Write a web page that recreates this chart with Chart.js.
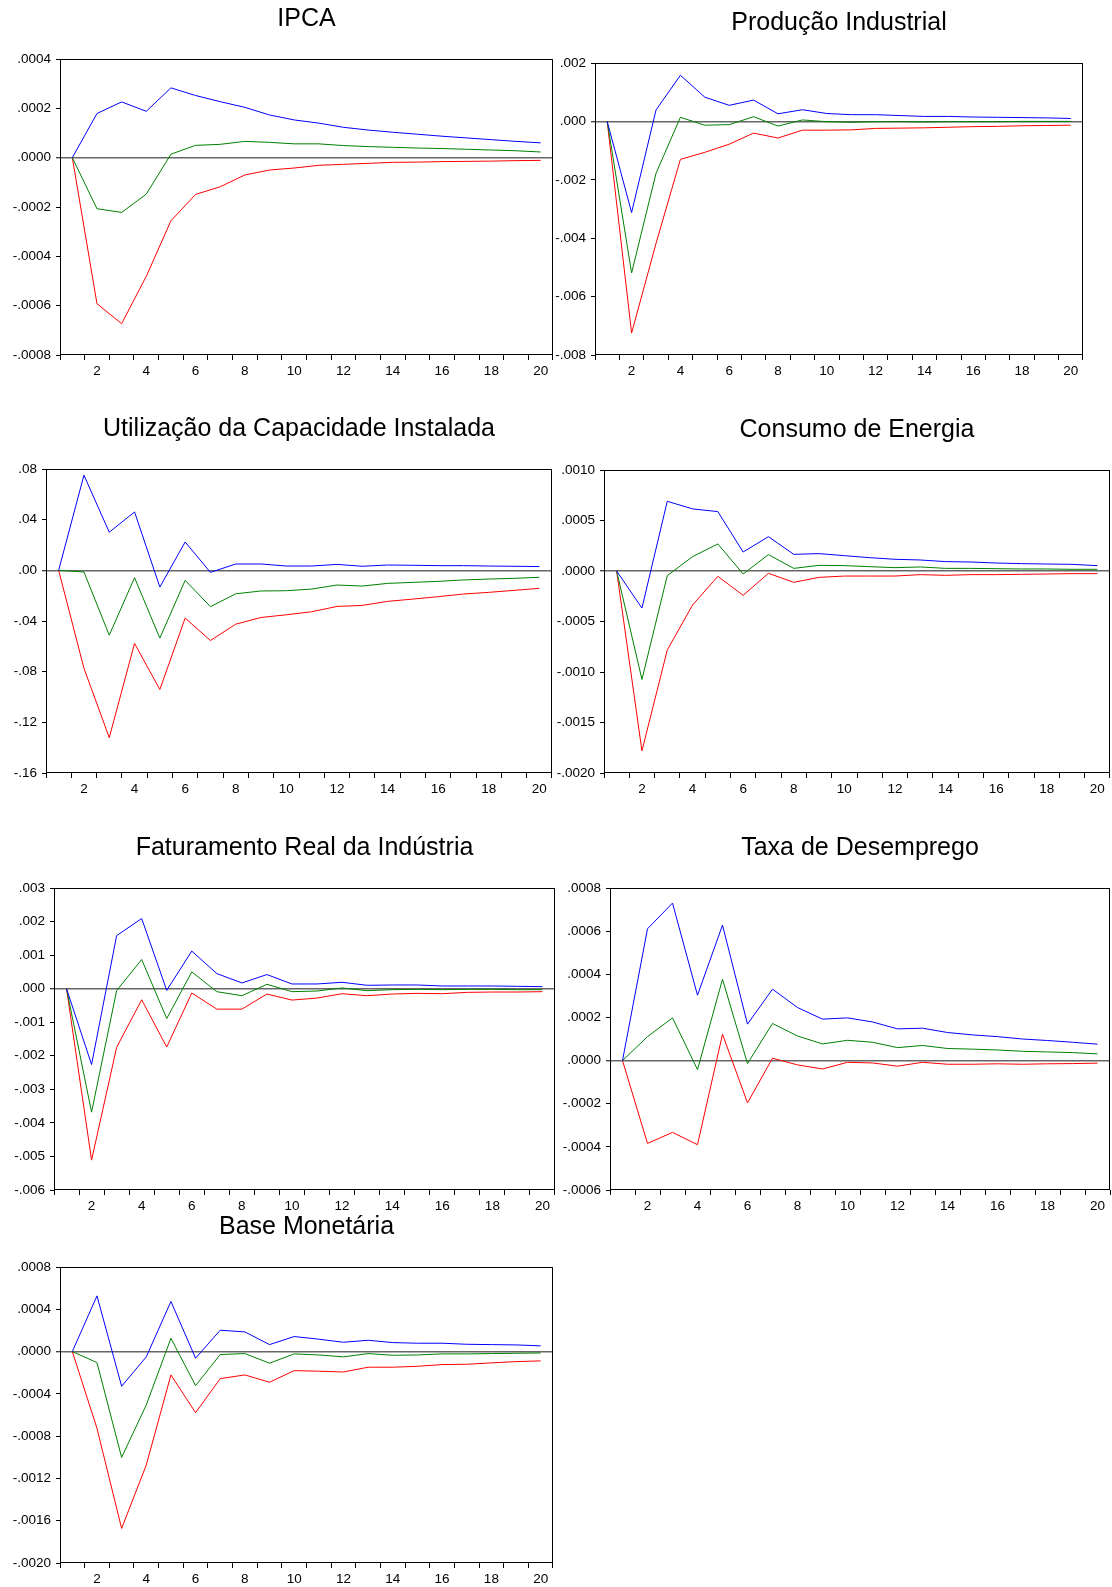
<!DOCTYPE html>
<html>
<head>
<meta charset="utf-8">
<title>Respostas a impulso</title>
<script src="https://cdn.jsdelivr.net/npm/chart.js@4.4.1/dist/chart.umd.min.js"></script>
<style>
  html, body { margin: 0; padding: 0; background: #fff; overflow: hidden; }
  #page { position: relative; width: 1112px; height: 1587px; }
  canvas { position: absolute; }
</style>
</head>
<body>
<div id="page"></div>
<script>
const periods = ['1','2','3','4','5','6','7','8','9','10','11','12','13','14','15','16','17','18','19','20'];

// IPCA
const ipcaUpper = [0, 0.000179, 0.000226, 0.000188, 0.000283, 0.000252, 0.000227, 0.000204, 0.000173, 0.000153, 0.00014, 0.000123, 0.000112, 0.000103, 0.000095, 0.000087, 0.00008, 0.000073, 0.000066, 0.00006];
const ipcaResp = [0, -0.000207, -0.000222, -0.000148, 0.000014, 0.00005, 0.000054, 0.000066, 0.000062, 0.000056, 0.000056, 0.000049, 0.000045, 0.000042, 0.000039, 0.000037, 0.000034, 0.000031, 0.000028, 0.000023];
const ipcaLower = [0, -0.000592, -0.000673, -0.000481, -0.000256, -0.000149, -0.000118, -0.00007, -0.00005, -0.000042, -0.000031, -0.000027, -0.000023, -0.000019, -0.000018, -0.000016, -0.000015, -0.000014, -0.000012, -0.000011];
const ipcaTicks = [0.0004, 0.0002, 0, -0.0002, -0.0004, -0.0006, -0.0008];

// Produção Industrial
const prodUpper = [0, -0.00312, 0.00039, 0.00158, 0.00083, 0.00055, 0.00073, 0.00026, 0.0004, 0.00027, 0.00023, 0.00023, 0.0002, 0.00017, 0.00017, 0.00015, 0.00014, 0.00013, 0.00012, 0.0001];
const prodResp = [0, -0.00519, -0.00178, 0.00014, -0.00013, -0.00011, 0.00016, -0.00016, 0.00005, -0.00001, -0.00003, -0.00001, -0.00001, -0.00002, -0.00001, -0.00001, -0.00001, 0, 0, 0];
const prodLower = [0, -0.00725, -0.00418, -0.0013, -0.00106, -0.00078, -0.0004, -0.00057, -0.0003, -0.0003, -0.00029, -0.00024, -0.00023, -0.00022, -0.0002, -0.00018, -0.00017, -0.00015, -0.00014, -0.00013];
const prodTicks = [0.002, 0, -0.002, -0.004, -0.006, -0.008];

// Utilização da Capacidade Instalada
const nuciUpper = [0, 0.0751, 0.0301, 0.0461, -0.0132, 0.0224, -0.0016, 0.005, 0.005, 0.0034, 0.0034, 0.0047, 0.0032, 0.0042, 0.004, 0.0037, 0.0037, 0.0034, 0.0032, 0.003];
const nuciResp = [0, -0.0013, -0.0512, -0.0058, -0.0535, -0.0079, -0.0287, -0.0185, -0.0163, -0.0161, -0.0148, -0.0116, -0.0124, -0.0103, -0.0095, -0.0087, -0.0076, -0.0069, -0.0063, -0.0055];
const nuciLower = [0, -0.0773, -0.1321, -0.0577, -0.0941, -0.0377, -0.0554, -0.0425, -0.0372, -0.0351, -0.0327, -0.0285, -0.0277, -0.0245, -0.0227, -0.0208, -0.0187, -0.0174, -0.0158, -0.0142];
const nuciTicks = [0.08, 0.04, 0, -0.04, -0.08, -0.12, -0.16];

// Consumo de Energia
const energiaUpper = [0, -0.000367, 0.00069, 0.000615, 0.000588, 0.000188, 0.00034, 0.000165, 0.000172, 0.000152, 0.000132, 0.000116, 0.000109, 0.000093, 0.000089, 0.000079, 0.000073, 0.000069, 0.000066, 0.000053];
const energiaResp = [0, -0.001074, -0.000046, 0.000142, 0.000268, -0.00003, 0.000162, 0.000026, 0.000056, 0.000053, 0.000043, 0.000033, 0.00004, 0.000026, 0.000026, 0.000023, 0.00002, 0.00002, 0.000017, 0.000017];
const energiaLower = [0, -0.001781, -0.000783, -0.000337, -0.000053, -0.000241, -0.000023, -0.000112, -0.000063, -0.00005, -0.00005, -0.00005, -0.000036, -0.000043, -0.000036, -0.000036, -0.000033, -0.00003, -0.000026, -0.000026];
const energiaTicks = [0.001, 0.0005, 0, -0.0005, -0.001, -0.0015, -0.002];

// Faturamento Real da Indústria
const fatUpper = [0, -0.00226, 0.00158, 0.00209, -0.00005, 0.00112, 0.00045, 0.00017, 0.00042, 0.00014, 0.00014, 0.00019, 0.0001, 0.00011, 0.00011, 0.00008, 0.00008, 0.00008, 0.00007, 0.00006];
const fatResp = [0, -0.00368, -0.00006, 0.00087, -0.00089, 0.0005, -0.00009, -0.00021, 0.00013, -0.00009, -0.00007, 0.00002, -0.00006, -0.00003, -0.00002, -0.00003, -0.00002, -0.00002, -0.00003, -0.00003];
const fatLower = [0, -0.00511, -0.00175, -0.00033, -0.00174, -0.00013, -0.00061, -0.00061, -0.00016, -0.00034, -0.00028, -0.00015, -0.00021, -0.00016, -0.00014, -0.00015, -0.00011, -0.0001, -0.0001, -0.00009];
const fatTicks = [0.003, 0.002, 0.001, 0, -0.001, -0.002, -0.003, -0.004, -0.005, -0.006];

// Taxa de Desemprego
const desempUpper = [0, 0.000611, 0.00073, 0.000303, 0.000628, 0.000169, 0.000331, 0.000246, 0.000192, 0.000198, 0.000179, 0.000147, 0.00015, 0.00013, 0.000119, 0.000111, 0.0001, 0.000093, 0.000085, 0.000076];
const desempResp = [0, 0.000111, 0.000198, -0.000042, 0.000377, -0.000014, 0.000172, 0.000114, 0.000077, 0.000094, 0.000085, 0.00006, 0.00007, 0.000056, 0.000053, 0.000049, 0.000043, 0.00004, 0.000037, 0.000031];
const desempLower = [0, -0.000384, -0.000333, -0.00039, 0.000122, -0.000196, 0.000011, -0.00002, -0.000039, -0.000008, -0.000011, -0.000026, -0.000008, -0.000017, -0.000017, -0.000015, -0.000017, -0.000015, -0.000014, -0.000012];
const desempTicks = [0.0008, 0.0006, 0.0004, 0.0002, 0, -0.0002, -0.0004, -0.0006];

// Base Monetária
const baseUpper = [0, 0.000527, -0.000328, -0.00005, 0.000474, -0.000063, 0.000202, 0.000186, 0.000066, 0.000142, 0.000117, 0.000088, 0.000107, 0.000085, 0.000079, 0.000079, 0.000069, 0.000066, 0.000063, 0.000054];
const baseResp = [0, -0.000104, -0.001001, -0.000505, 0.000126, -0.000322, -0.000028, -0.000019, -0.00011, -0.000022, -0.000032, -0.00005, -0.000019, -0.000035, -0.000032, -0.000022, -0.000022, -0.000019, -0.000016, -0.000013];
const baseLower = [0, -0.000726, -0.001673, -0.001073, -0.000221, -0.000578, -0.000256, -0.000221, -0.00029, -0.00018, -0.000186, -0.000193, -0.000148, -0.000148, -0.000139, -0.000123, -0.00012, -0.000107, -0.000095, -0.000088];
const baseTicks = [0.0008, 0.0004, 0, -0.0004, -0.0008, -0.0012, -0.0016, -0.002];

Chart.defaults.font.family = '"Liberation Sans", Arial, sans-serif';
Chart.defaults.color = '#000';

const AXIS_W = 56;   // room for y labels left of the frame
const AXIS_H = 30;   // room for x labels under the frame
const PAD_TOP = 56;  // room for the title above the frame
const PAD_RIGHT = 3;

// eviews style numbers: .0004, -.002
function evFormat(v, dec) {
    const s = Math.abs(v).toFixed(dec).replace(/^0/, '');
    return (v < -1e-12 ? '-' : '') + s;
}

// frame around plot area + title centred over it
const panelDecor = {
    id: 'panelDecor',
    afterDraw(chart, args, opts) {
        const a = chart.chartArea;
        const ctx = chart.ctx;
        ctx.save();
        ctx.strokeStyle = '#000';
        ctx.lineWidth = 1;
        const x0 = Math.round(a.left) + 0.5, y0 = Math.round(a.top) + 0.5;
        const x1 = Math.round(a.right) - 0.5, y1 = Math.round(a.bottom) - 0.5;
        ctx.strokeRect(x0, y0, x1 - x0, y1 - y0);
        ctx.fillStyle = '#000';
        ctx.font = '25px "Liberation Sans", Arial, sans-serif';
        ctx.textAlign = 'center';
        ctx.textBaseline = 'middle';
        ctx.fillText(opts.text, (a.left + a.right) / 2, a.top - 40);
        ctx.restore();
    }
};

const panels = [
    { title: 'IPCA', upper: ipcaUpper, resp: ipcaResp, lower: ipcaLower, ticks: ipcaTicks, dec: 4,
      box: { left: 60, top: 59, right: 553, bottom: 355 } },
    { title: 'Produção Industrial', upper: prodUpper, resp: prodResp, lower: prodLower, ticks: prodTicks, dec: 3,
      box: { left: 595, top: 63, right: 1083, bottom: 355 } },
    { title: 'Utilização da Capacidade Instalada', upper: nuciUpper, resp: nuciResp, lower: nuciLower, ticks: nuciTicks, dec: 2,
      box: { left: 46, top: 469, right: 552, bottom: 773 } },
    { title: 'Consumo de Energia', upper: energiaUpper, resp: energiaResp, lower: energiaLower, ticks: energiaTicks, dec: 4,
      box: { left: 604, top: 470, right: 1110, bottom: 773 } },
    { title: 'Faturamento Real da Indústria', upper: fatUpper, resp: fatResp, lower: fatLower, ticks: fatTicks, dec: 3,
      box: { left: 54, top: 888, right: 555, bottom: 1190 } },
    { title: 'Taxa de Desemprego', upper: desempUpper, resp: desempResp, lower: desempLower, ticks: desempTicks, dec: 4,
      box: { left: 610, top: 888, right: 1110, bottom: 1190 } },
    { title: 'Base Monetária', upper: baseUpper, resp: baseResp, lower: baseLower, ticks: baseTicks, dec: 4,
      box: { left: 60, top: 1267, right: 553, bottom: 1563 } }
];

const page = document.getElementById('page');

panels.forEach(p => {
    const c = document.createElement('canvas');
    c.width = (p.box.right - p.box.left) + AXIS_W + PAD_RIGHT;
    c.height = (p.box.bottom - p.box.top) + PAD_TOP + AXIS_H;
    c.style.left = (p.box.left - AXIS_W) + 'px';
    c.style.top = (p.box.top - PAD_TOP) + 'px';
    page.appendChild(c);

    const line = (data, color) => ({
        data: data,
        borderColor: color,
        borderWidth: 1,
        pointRadius: 0,
        tension: 0,
        fill: false
    });

    new Chart(c, {
        type: 'line',
        data: {
            labels: periods,
            datasets: [
                line(p.upper, '#0000ff'),
                line(p.resp, '#008000'),
                line(p.lower, '#ff0000')
            ]
        },
        options: {
            responsive: false,
            animation: false,
            devicePixelRatio: 1,
            events: [],
            layout: { padding: { top: PAD_TOP, right: PAD_RIGHT, left: 0, bottom: 0 } },
            plugins: {
                legend: { display: false },
                tooltip: { enabled: false },
                panelDecor: { text: p.title }
            },
            scales: {
                x: {
                    type: 'category',
                    offset: true,
                    border: { display: false },
                    grid: {
                        offset: true,
                        drawOnChartArea: false,
                        drawTicks: true,
                        tickLength: 5,
                        tickColor: '#000',
                        tickWidth: 1
                    },
                    ticks: {
                        autoSkip: false,
                        maxRotation: 0,
                        padding: 3,
                        font: { size: 13.5 },
                        callback: function (val) {
                            const lab = this.getLabelForValue(val);
                            return Number(lab) % 2 === 0 ? lab : '';
                        }
                    },
                    afterFit: s => { s.height = AXIS_H; }
                },
                y: {
                    min: Math.min(...p.ticks),
                    max: Math.max(...p.ticks),
                    border: { display: false },
                    afterBuildTicks: s => { s.ticks = p.ticks.map(v => ({ value: v })); },
                    grid: {
                        drawTicks: true,
                        tickLength: 4,
                        tickColor: '#000',
                        tickWidth: 1,
                        color: ctx => (ctx.tick && Math.abs(ctx.tick.value) < 1e-12) ? '#666666' : 'rgba(0,0,0,0)',
                        lineWidth: ctx => (ctx.tick && Math.abs(ctx.tick.value) < 1e-12) ? 1.5 : 1
                    },
                    ticks: {
                        padding: 5,
                        font: { size: 13.5 },
                        callback: v => evFormat(v, p.dec)
                    },
                    afterFit: s => { s.width = AXIS_W; }
                }
            }
        },
        plugins: [panelDecor]
    });
});
</script>
</body>
</html>
